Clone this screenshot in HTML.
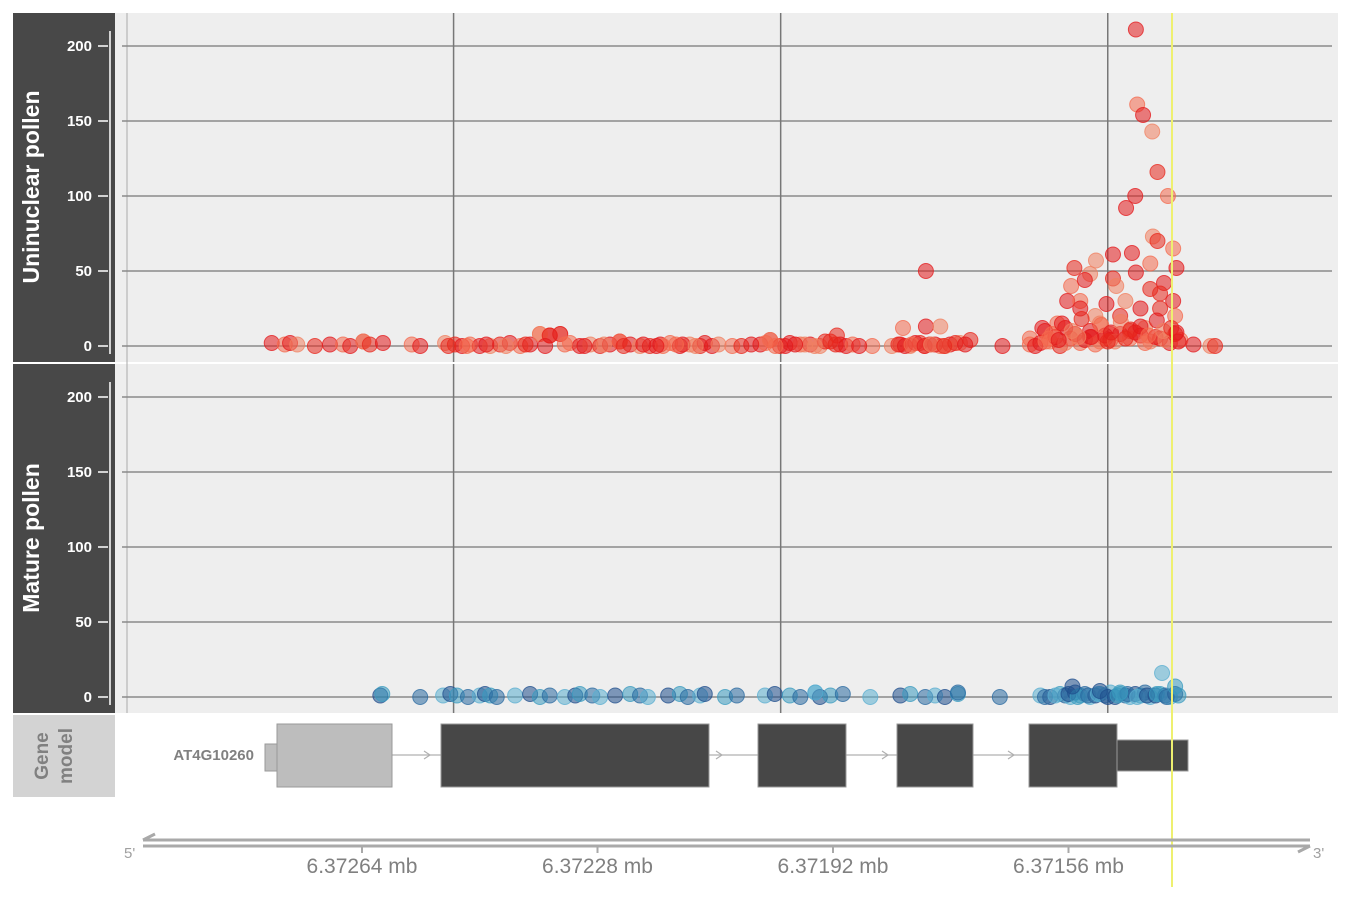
<!DOCTYPE html>
<html><head><meta charset="utf-8">
<style>
html,body{margin:0;padding:0;background:#fff;}
svg{display:block;font-family:"Liberation Sans",sans-serif;}
</style></head>
<body>
<svg id="chart" width="1350" height="900" viewBox="0 0 1350 900">
  <rect x="115" y="13" width="1223" height="349" fill="#eeeeee"/>
  <rect x="115" y="364" width="1223" height="349" fill="#eeeeee"/>
  <rect x="13" y="13" width="102" height="349" fill="#484848"/>
  <rect x="13" y="364" width="102" height="349" fill="#484848"/>
  <rect x="13" y="715" width="102" height="82" fill="#d3d3d3"/>
  <text transform="translate(39,187) rotate(-90)" text-anchor="middle" fill="#fff" font-size="23" font-weight="bold">Uninuclear pollen</text>
  <text transform="translate(39,538) rotate(-90)" text-anchor="middle" fill="#fff" font-size="23" font-weight="bold">Mature pollen</text>
  <text transform="translate(48,756) rotate(-90)" text-anchor="middle" fill="#808080" font-size="19" font-weight="bold">Gene</text>
  <text transform="translate(72,756) rotate(-90)" text-anchor="middle" fill="#808080" font-size="19" font-weight="bold">model</text>
  <line x1="127" y1="13" x2="127" y2="713" stroke="#aaa" stroke-width="1"/>
  <g id="grid"></g>
  <g id="axes"></g>
  <g id="gene"></g>
  <g id="points"></g>
  <line x1="1172" y1="13" x2="1172" y2="887" stroke="#eef070" stroke-width="2"/>
  <g id="genomeaxis"></g>
</svg>
<script>
// genomic positions: bp offset from 6371000
const redZeroPos = [1778,1758,1750,1739,1712,1689,1669,1658,1638,1628,
 1608,1564,1551,1513,1498,1487,1475,1460,1444,1429,
 1414,1398,1383,1368,1353,1337,1322,1307,1291,1276,
 1261,1246,1230,1215,1200,1184,1169,1154,1139,1123,
 1116,1074,1031,1016,1001,986,970,955,940,924,
 909,860,817,802,787,772,756,741,726,710,
 661,619,603,588,573,557,542,527,512,496,
 481,466,450,435,420,405,389,369,343,336,
 611,595,580,565,550,535,519,504,489,473,
 458,443,427,412,397,392,1023,993,963,932,
 794,780,764,748,733,718,1480,1450,1420,1390,
 1360,1330,1300,1270,1240,1210,1180,1150,1130,1508,
 600,585,570,555,540,525,510,495,480,465,
 450,438,425,415,403,395,590,575,545,500,
 1190,1160,1105,1095,1060,1045,1008,978,948,916,
 900,890,880,830,820,810,800,780,770,750];
const redZeroVal = [2,1,2,1,0,1,1,0,3,1,
 2,1,0,2,1,0,1,0,0,1,
 2,0,1,8,7,8,2,0,1,0,
 1,3,1,0,0,1,2,0,1,0,
 2,0,1,4,0,2,1,1,0,3,
 1,0,1,0,2,1,0,1,2,4,
 0,1,2,3,0,5,2,6,3,4,
 8,5,7,3,5,2,4,1,0,0,
 0,3,6,2,8,4,1,7,3,5,
 9,2,6,4,8,3,2,0,1,3,
 2,0,1,0,2,1,0,1,0,1,
 0,1,0,1,0,1,0,1,0,0,
 12,8,15,10,18,6,14,9,16,11,
 13,7,17,10,12,9,5,4,6,3,
 0,1,0,1,0,1,0,1,0,1,
 0,1,0,0,1,0,1,0,1,0];
const redHighPos = [457,455,446,432,424,458,408,472,431,424,
 463,400,492,518,551,395,435,457,527,492,
 414,556,535,487,435,562,542,502,473,420,
 400,577,542,519,481,450,397,596,512,466,
 778,813,778,756,914,1016,1368,1353,1337,1638,
 1246,619,527,443,420,504,496,565];
const redHighVal = [211,161,154,143,116,100,100,92,73,70,
 62,65,61,57,52,52,55,49,48,45,
 42,40,44,40,38,30,30,28,30,35,
 30,15,25,20,20,25,20,10,15,10,
 50,12,13,13,7,4,8,7,8,3,
 3,5,10,12,25,5,8,12];
const bluePos = [1612,1609,1551,1516,1505,1495,1478,1460,1452,1444,1434,1406,1383,1368,1353,1330,1314,1307,1288,1276,1253,1230,1215,1203,1172,1154,1142,1123,1116,1085,1067,1024,1009,986,970,947,940,924,905,863,817,802,779,764,749,729,665,603,588,573,565,557,550,542,535,527,519,512,504,496,489,481,473,466,458,450,443,435,427,420,412,405,397,392,
 596,580,560,546,530,515,500,485,470,455,440,425,410,
 417,554,397,729,947,512,481];
const blueVal = [1,2,0,1,2,1,0,1,2,1,0,1,2,0,1,0,1,2,1,0,1,2,1,0,1,2,0,1,2,0,1,1,2,1,0,3,0,1,2,0,1,2,0,1,0,2,0,1,0,2,1,0,3,1,2,0,1,2,1,3,0,2,1,0,2,1,3,0,1,2,1,0,2,1,
 0,1,2,0,1,2,0,1,2,0,1,2,0,
 16,7,7,3,3,4,3];
const yTicks = [0,50,100,150,200];
const xTickVals = [1640,1280,920,560];
const xTickLabels = ["6.37264 mb","6.37228 mb","6.37192 mb","6.37156 mb"];
const gridVals = [1500,1000,500];

const NS='http://www.w3.org/2000/svg';
function mk(tag, attrs, parent){const e=document.createElementNS(NS,tag);for(const k in attrs)e.setAttribute(k,attrs[k]);parent.appendChild(e);return e;}
function xs(p){return 362+(1640-p)*235.5/360;}
function y1(v){return 346-v*1.5;}
function y2(v){return 697-v*1.5;}
const grid=document.getElementById('grid'), axes=document.getElementById('axes'), pts=document.getElementById('points'), ga=document.getElementById('genomeaxis');

[[y1,13,362],[y2,364,713]].forEach(function(p){
  const ys=p[0];
  yTicks.forEach(function(t){
    const g=mk('line',{x1:122,x2:1332,y1:ys(t),y2:ys(t),stroke:'#8a8a8a','stroke-width':1.5},grid);
    
    
    const tk=mk('line',{x1:98,x2:108,y1:ys(t),y2:ys(t),stroke:'#fff','stroke-width':1.5},axes);
    
    
    const lb=mk('text',{x:92,y:ys(t)+5,'text-anchor':'end',fill:'#fff','font-size':15,'font-weight':'bold'},axes);
    lb.textContent=t;
    
    
  });
  const al=mk('line',{x1:110,x2:110,y1:ys(210),y2:ys(0)+8,stroke:'#fff','stroke-width':1.5},axes);
  
  
  gridVals.forEach(function(gv){
    const v=mk('line',{x1:xs(gv),x2:xs(gv),y1:p[1],y2:p[2],stroke:'#777','stroke-width':1.5},grid);
    
    
  });
});

const redCols=['#e31a1c','#f46a4e','#e31a1c','#f08060','#e8281e'];
function redDot(p,v,i){
  const c=mk('circle',{cx:xs(p),cy:y1(v),r:7.5,fill:redCols[i%5],'fill-opacity':0.55,stroke:redCols[i%5],'stroke-opacity':0.75,'stroke-width':1},pts);
  
  
}
redHighPos.forEach(function(p,i){redDot(p,redHighVal[i],i);});
redZeroPos.forEach(function(p,i){redDot(p,redZeroVal[i],i);});
const blueCols=['#1f4e8c','#3a9bbf','#2a6aa0','#5aaed0'];
bluePos.forEach(function(p,i){
  const c=mk('circle',{cx:xs(p),cy:y2(blueVal[i]),r:7.5,fill:blueCols[i%4],'fill-opacity':0.55,stroke:blueCols[i%4],'stroke-opacity':0.75,'stroke-width':1},pts);
  
  
});

// gene model
const gene=document.getElementById('gene');
const exons=[[277,392,'#bdbdbd'],[441,709,'#474747'],[758,846,'#474747'],[897,973,'#474747'],[1029,1117,'#474747']];
const il=mk('line',{x1:265,x2:1188,y1:755,y2:755,stroke:'#b0b0b0','stroke-width':1.2},gene);


[[415,430],[710,722],[870,888],[1000,1014]].forEach(function(a){
  const ar=mk('polyline',{points:(a[1]-6)+',751 '+a[1]+',755 '+(a[1]-6)+',759',fill:'none',stroke:'#b0b0b0','stroke-width':1.2},gene);
  
  
});
const u=mk('rect',{x:265,y:744,width:14,height:27,fill:'#bdbdbd',stroke:'#999','stroke-width':1},gene);


const u3=mk('rect',{x:1115,y:740,width:73,height:31,fill:'#474747',stroke:'#999','stroke-width':1},gene);


exons.forEach(function(e){
  const r=mk('rect',{x:e[0],y:724,width:e[1]-e[0],height:63,fill:e[2],stroke:'#999','stroke-width':1},gene);
  
  
});
const gl=mk('text',{x:254,y:760,'text-anchor':'end',fill:'#808080','font-size':15,'font-weight':'bold'},gene);
gl.textContent='AT4G10260';



// genome axis
[840,846].forEach(function(y){
  const l=mk('line',{x1:143,x2:1310,y1:y,y2:y,stroke:'#a9a9a9','stroke-width':3},ga);
  
  
});
const al1=mk('polyline',{points:'155,834 143,840',fill:'none',stroke:'#a9a9a9','stroke-width':3},ga);


const al2=mk('polyline',{points:'1298,852 1310,846',fill:'none',stroke:'#a9a9a9','stroke-width':3},ga);


const t5=mk('text',{x:124,y:858,fill:'#a0a0a0','font-size':15},ga);
t5.textContent="5'";


const t3=mk('text',{x:1313,y:858,fill:'#a0a0a0','font-size':15},ga);
t3.textContent="3'";


xTickVals.forEach(function(v,i){
  const tk=mk('line',{x1:xs(v),x2:xs(v),y1:846,y2:853,stroke:'#a9a9a9','stroke-width':2},ga);
  
  
  const lb=mk('text',{x:xs(v),y:873,'text-anchor':'middle',fill:'#808080','font-size':21},ga);
  lb.textContent=xTickLabels[i];
  
  
});
</script>
</body></html>
